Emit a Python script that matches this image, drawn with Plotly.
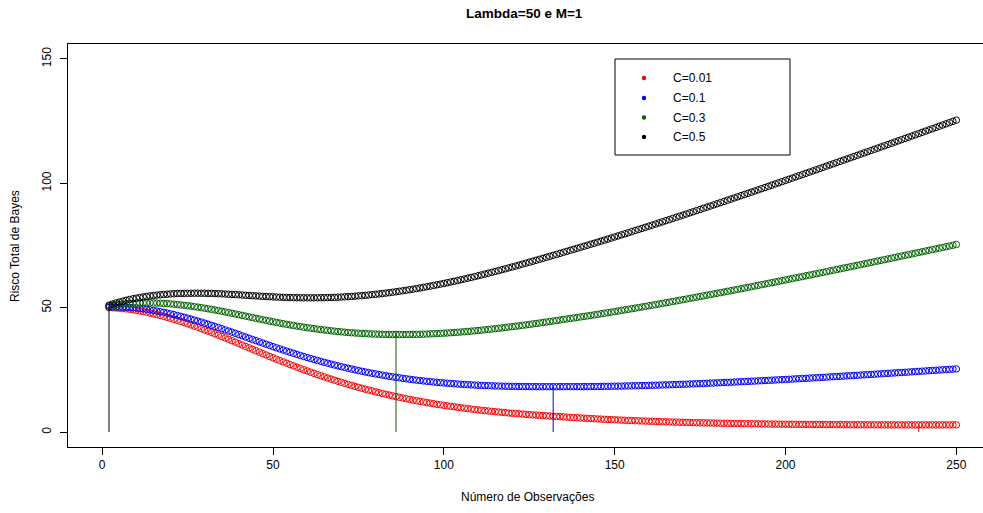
import plotly.graph_objects as go

# Number of observations (sample size n)
n_obs = list(range(2, 251))

# Total Bayes risk for each sampling cost C (n = 2 .. 250)
risk_c001 = [
    50.02, 49.97, 49.90, 49.80, 49.68, 49.53, 49.36, 49.17, 48.95, 48.71,
    48.45, 48.17, 47.87, 47.55, 47.22, 46.87, 46.50, 46.12, 45.73, 45.32,
    44.89, 44.45, 44.00, 43.54, 43.07, 42.59, 42.10, 41.60, 41.09, 40.57,
    40.04, 39.50, 38.96, 38.41, 37.85, 37.29, 36.73, 36.16, 35.58, 35.00,
    34.42, 33.84, 33.26, 32.68, 32.11, 31.54, 30.97, 30.40, 29.84, 29.29,
    28.74, 28.19, 27.65, 27.12, 26.60, 26.08, 25.57, 25.06, 24.56, 24.07,
    23.59, 23.11, 22.64, 22.18, 21.73, 21.28, 20.84, 20.41, 19.99, 19.57,
    19.16, 18.76, 18.37, 17.99, 17.61, 17.24, 16.88, 16.53, 16.18, 15.84,
    15.51, 15.19, 14.87, 14.56, 14.26, 13.97, 13.68, 13.40, 13.13, 12.86,
    12.60, 12.35, 12.10, 11.86, 11.63, 11.40, 11.18, 10.96, 10.75, 10.55,
    10.35, 10.15, 9.96, 9.78, 9.60, 9.42, 9.25, 9.09, 8.93, 8.77,
    8.62, 8.48, 8.34, 8.20, 8.07, 7.94, 7.81, 7.69, 7.57, 7.45,
    7.34, 7.23, 7.12, 7.02, 6.92, 6.82, 6.72, 6.63, 6.54, 6.45,
    6.36, 6.27, 6.19, 6.11, 6.02, 5.93, 5.84, 5.75, 5.67, 5.59,
    5.51, 5.43, 5.35, 5.28, 5.21, 5.14, 5.07, 5.00, 4.93, 4.87,
    4.81, 4.75, 4.69, 4.63, 4.57, 4.52, 4.46, 4.41, 4.36, 4.31,
    4.26, 4.22, 4.17, 4.13, 4.08, 4.04, 4.00, 3.96, 3.92, 3.88,
    3.85, 3.81, 3.78, 3.74, 3.71, 3.68, 3.65, 3.62, 3.59, 3.56,
    3.53, 3.51, 3.48, 3.46, 3.43, 3.41, 3.38, 3.36, 3.34, 3.32,
    3.30, 3.28, 3.26, 3.24, 3.22, 3.21, 3.19, 3.17, 3.16, 3.14,
    3.13, 3.12, 3.10, 3.09, 3.08, 3.07, 3.05, 3.04, 3.03, 3.02,
    3.01, 3.01, 3.00, 2.99, 2.98, 2.97, 2.97, 2.96, 2.95, 2.95,
    2.94, 2.94, 2.93, 2.93, 2.92, 2.92, 2.91, 2.91, 2.91, 2.90,
    2.90, 2.90, 2.90, 2.89, 2.89, 2.89, 2.89, 2.89, 2.89, 2.89,
    2.89, 2.89, 2.89, 2.89, 2.89, 2.89, 2.89, 2.89, 2.89,
]

risk_c01 = [
    50.20, 50.24, 50.26, 50.25, 50.22, 50.16, 50.08, 49.98, 49.85, 49.70,
    49.53, 49.34, 49.13, 48.90, 48.66, 48.40, 48.12, 47.83, 47.53, 47.21,
    46.87, 46.52, 46.16, 45.79, 45.41, 45.02, 44.62, 44.21, 43.79, 43.36,
    42.92, 42.47, 42.02, 41.56, 41.09, 40.62, 40.15, 39.67, 39.18, 38.69,
    38.20, 37.71, 37.22, 36.73, 36.25, 35.77, 35.29, 34.81, 34.34, 33.88,
    33.42, 32.96, 32.51, 32.07, 31.64, 31.21, 30.79, 30.37, 29.96, 29.56,
    29.17, 28.78, 28.40, 28.03, 27.67, 27.31, 26.96, 26.62, 26.29, 25.96,
    25.64, 25.33, 25.03, 24.74, 24.45, 24.17, 23.90, 23.64, 23.38, 23.13,
    22.89, 22.66, 22.43, 22.21, 22.00, 21.80, 21.60, 21.41, 21.23, 21.05,
    20.88, 20.72, 20.56, 20.41, 20.27, 20.13, 20.00, 19.87, 19.75, 19.64,
    19.53, 19.42, 19.32, 19.23, 19.14, 19.05, 18.97, 18.90, 18.83, 18.76,
    18.70, 18.65, 18.60, 18.55, 18.51, 18.47, 18.43, 18.40, 18.37, 18.34,
    18.32, 18.30, 18.28, 18.27, 18.26, 18.25, 18.24, 18.24, 18.24, 18.24,
    18.24, 18.24, 18.25, 18.26, 18.26, 18.26, 18.26, 18.26, 18.27, 18.28,
    18.29, 18.30, 18.31, 18.33, 18.35, 18.37, 18.39, 18.41, 18.43, 18.46,
    18.49, 18.52, 18.55, 18.58, 18.61, 18.65, 18.68, 18.72, 18.76, 18.80,
    18.84, 18.89, 18.93, 18.98, 19.02, 19.07, 19.12, 19.17, 19.22, 19.27,
    19.33, 19.38, 19.44, 19.49, 19.55, 19.61, 19.67, 19.73, 19.79, 19.85,
    19.91, 19.98, 20.04, 20.11, 20.17, 20.24, 20.30, 20.37, 20.44, 20.51,
    20.58, 20.65, 20.72, 20.79, 20.86, 20.94, 21.01, 21.08, 21.16, 21.23,
    21.31, 21.39, 21.46, 21.54, 21.62, 21.70, 21.77, 21.85, 21.93, 22.01,
    22.09, 22.18, 22.26, 22.34, 22.42, 22.50, 22.59, 22.67, 22.75, 22.84,
    22.92, 23.01, 23.09, 23.18, 23.26, 23.35, 23.43, 23.52, 23.61, 23.69,
    23.78, 23.87, 23.96, 24.04, 24.13, 24.22, 24.31, 24.40, 24.49, 24.58,
    24.67, 24.76, 24.85, 24.94, 25.03, 25.12, 25.21, 25.30, 25.39,
]

risk_c03 = [
    50.60, 50.84, 51.06, 51.25, 51.42, 51.56, 51.68, 51.78, 51.85, 51.90,
    51.93, 51.94, 51.93, 51.90, 51.86, 51.80, 51.72, 51.63, 51.53, 51.41,
    51.27, 51.12, 50.96, 50.79, 50.61, 50.42, 50.22, 50.01, 49.79, 49.56,
    49.32, 49.07, 48.82, 48.56, 48.29, 48.02, 47.75, 47.47, 47.18, 46.89,
    46.60, 46.31, 46.02, 45.73, 45.45, 45.17, 44.89, 44.61, 44.34, 44.08,
    43.82, 43.56, 43.31, 43.07, 42.84, 42.61, 42.39, 42.17, 41.96, 41.76,
    41.57, 41.38, 41.20, 41.03, 40.87, 40.71, 40.56, 40.42, 40.29, 40.16,
    40.04, 39.93, 39.83, 39.74, 39.65, 39.57, 39.50, 39.44, 39.38, 39.33,
    39.29, 39.26, 39.23, 39.21, 39.20, 39.20, 39.20, 39.21, 39.23, 39.25,
    39.28, 39.32, 39.36, 39.41, 39.47, 39.53, 39.60, 39.67, 39.75, 39.84,
    39.93, 40.02, 40.12, 40.23, 40.34, 40.45, 40.57, 40.70, 40.83, 40.96,
    41.10, 41.25, 41.40, 41.55, 41.71, 41.87, 42.03, 42.20, 42.37, 42.54,
    42.72, 42.90, 43.08, 43.27, 43.46, 43.65, 43.84, 44.04, 44.24, 44.44,
    44.64, 44.84, 45.05, 45.26, 45.46, 45.66, 45.86, 46.06, 46.27, 46.48,
    46.69, 46.90, 47.11, 47.33, 47.55, 47.77, 47.99, 48.21, 48.43, 48.66,
    48.89, 49.12, 49.35, 49.58, 49.81, 50.05, 50.28, 50.52, 50.76, 51.00,
    51.24, 51.49, 51.73, 51.98, 52.22, 52.47, 52.72, 52.97, 53.22, 53.47,
    53.73, 53.98, 54.24, 54.49, 54.75, 55.01, 55.27, 55.53, 55.79, 56.05,
    56.31, 56.58, 56.84, 57.11, 57.37, 57.64, 57.90, 58.17, 58.44, 58.71,
    58.98, 59.25, 59.52, 59.79, 60.06, 60.34, 60.61, 60.88, 61.16, 61.43,
    61.71, 61.99, 62.26, 62.54, 62.82, 63.10, 63.37, 63.65, 63.93, 64.21,
    64.49, 64.78, 65.06, 65.34, 65.62, 65.90, 66.19, 66.47, 66.75, 67.04,
    67.32, 67.61, 67.89, 68.18, 68.46, 68.75, 69.03, 69.32, 69.61, 69.89,
    70.18, 70.47, 70.76, 71.04, 71.33, 71.62, 71.91, 72.20, 72.49, 72.78,
    73.07, 73.36, 73.65, 73.94, 74.23, 74.52, 74.81, 75.10, 75.39,
]

risk_c05 = [
    51.00, 51.44, 51.86, 52.25, 52.62, 52.96, 53.28, 53.58, 53.85, 54.10,
    54.33, 54.54, 54.73, 54.90, 55.06, 55.20, 55.32, 55.43, 55.53, 55.61,
    55.67, 55.72, 55.76, 55.79, 55.81, 55.82, 55.82, 55.81, 55.79, 55.76,
    55.72, 55.67, 55.62, 55.56, 55.49, 55.42, 55.35, 55.27, 55.18, 55.09,
    55.00, 54.91, 54.82, 54.73, 54.65, 54.57, 54.49, 54.41, 54.34, 54.28,
    54.22, 54.16, 54.11, 54.07, 54.04, 54.01, 53.99, 53.97, 53.96, 53.96,
    53.97, 53.98, 54.00, 54.03, 54.07, 54.11, 54.16, 54.22, 54.29, 54.36,
    54.44, 54.53, 54.63, 54.74, 54.85, 54.97, 55.10, 55.24, 55.38, 55.53,
    55.69, 55.86, 56.03, 56.21, 56.40, 56.60, 56.80, 57.01, 57.23, 57.45,
    57.68, 57.92, 58.16, 58.41, 58.67, 58.93, 59.20, 59.47, 59.75, 60.04,
    60.33, 60.62, 60.92, 61.23, 61.54, 61.85, 62.17, 62.50, 62.83, 63.16,
    63.50, 63.85, 64.20, 64.55, 64.91, 65.27, 65.63, 66.00, 66.37, 66.74,
    67.12, 67.50, 67.88, 68.27, 68.66, 69.05, 69.44, 69.84, 70.24, 70.64,
    71.04, 71.44, 71.85, 72.26, 72.66, 73.06, 73.46, 73.86, 74.27, 74.68,
    75.09, 75.50, 75.91, 76.33, 76.75, 77.17, 77.59, 78.01, 78.43, 78.86,
    79.29, 79.72, 80.15, 80.58, 81.01, 81.45, 81.88, 82.32, 82.76, 83.20,
    83.64, 84.09, 84.53, 84.98, 85.42, 85.87, 86.32, 86.77, 87.22, 87.67,
    88.13, 88.58, 89.04, 89.49, 89.95, 90.41, 90.87, 91.33, 91.79, 92.25,
    92.71, 93.18, 93.64, 94.11, 94.57, 95.04, 95.50, 95.97, 96.44, 96.91,
    97.38, 97.85, 98.32, 98.79, 99.26, 99.74, 100.21, 100.68, 101.16, 101.63,
    102.11, 102.59, 103.06, 103.54, 104.02, 104.50, 104.97, 105.45, 105.93, 106.41,
    106.89, 107.38, 107.86, 108.34, 108.82, 109.30, 109.79, 110.27, 110.75, 111.24,
    111.72, 112.21, 112.69, 113.18, 113.66, 114.15, 114.63, 115.12, 115.61, 116.09,
    116.58, 117.07, 117.56, 118.04, 118.53, 119.02, 119.51, 120.00, 120.49, 120.98,
    121.47, 121.96, 122.45, 122.94, 123.43, 123.92, 124.41, 124.90, 125.39,
]

labels = ["C=0.01", "C=0.1", "C=0.3", "C=0.5"]
colors = ["#ff0000", "#0000ff", "#006400", "#000000"]
# sample size that minimises the total risk of each series
n_optimal = [239, 132, 86, 2]

x_ticks = [0, 50, 100, 150, 200, 250]
y_ticks = [0, 50, 100, 150]

series = [risk_c001, risk_c01, risk_c03, risk_c05]

W, H = 983, 513
ML, MR, MT, MB = 68, 0, 44, 66
PW, PH = W - ML - MR, H - MT - MB
FONT = "Liberation Sans, Arial, Helvetica, sans-serif"


def px(x):
    return (x - ML) / PW


def py(y):
    return (H - MB - y) / PH


fig = go.Figure()

for vals, col in zip(series, colors):
    fig.add_trace(go.Scatter(
        x=n_obs, y=vals, mode="markers",
        marker=dict(symbol="circle-open", size=6.5, color=col,
                    line=dict(width=1, color=col)),
        showlegend=False, hoverinfo="skip",
    ))

# vertical segment from zero up to the minimum risk of each curve
for vals, col, n_min in zip(series, colors, n_optimal):
    r_min = vals[n_obs.index(n_min)]
    fig.add_trace(go.Scatter(
        x=[n_min, n_min], y=[0, r_min], mode="lines",
        line=dict(color=col, width=1),
        showlegend=False, hoverinfo="skip",
    ))

shapes = []
annotations = []

# legend box
lx0, lx1, ly0, ly1 = 615, 790, 59, 155
shapes.append(dict(type="rect", xref="paper", yref="paper",
                   x0=px(lx0), x1=px(lx1), y0=py(ly1), y1=py(ly0),
                   line=dict(color="black", width=1), fillcolor="white",
                   layer="above"))
row_y = [78, 98, 117.5, 137]
for lab, col, ry in zip(labels, colors, row_y):
    shapes.append(dict(type="circle", xref="paper", yref="paper",
                       xsizemode="pixel", ysizemode="pixel",
                       xanchor=px(644), yanchor=py(ry),
                       x0=-2.2, x1=2.2, y0=-2.2, y1=2.2,
                       fillcolor=col, line=dict(color=col, width=0),
                       layer="above"))
    annotations.append(dict(text=lab, xref="paper", yref="paper",
                            x=px(671), y=py(ry), xanchor="left",
                            yanchor="middle", showarrow=False,
                            font=dict(family=FONT, size=12, color="black")))

# title and axis titles
annotations.append(dict(text="<b>Lambda=50 e M=1</b>", xref="paper",
                        yref="paper", x=px(524), y=py(14), xanchor="center",
                        yanchor="middle", showarrow=False,
                        font=dict(family=FONT, size=13.5, color="black")))
annotations.append(dict(text="Número de Observações", xref="paper",
                        yref="paper", x=px(527), y=py(497), xanchor="center",
                        yanchor="middle", showarrow=False,
                        font=dict(family=FONT, size=12, color="black")))
annotations.append(dict(text="Risco Total de Bayes", xref="paper",
                        yref="paper", x=px(15), y=py(246), xanchor="center",
                        yanchor="middle", textangle=-90, showarrow=False,
                        font=dict(family=FONT, size=12, color="black")))

fig.update_layout(
    width=W, height=H,
    margin=dict(l=ML, r=MR, t=MT, b=MB, pad=0),
    paper_bgcolor="white", plot_bgcolor="white",
    showlegend=False,
    font=dict(family=FONT, size=12, color="black"),
    shapes=shapes, annotations=annotations,
    xaxis=dict(range=[-10, 257.8], tickvals=x_ticks, ticks="outside",
               ticklen=7, tickwidth=1, tickcolor="black",
               showgrid=False, zeroline=False,
               showline=True, linecolor="black", linewidth=1, mirror=True,
               tickfont=dict(family=FONT, size=12, color="black")),
    yaxis=dict(range=[-6, 156], tickvals=y_ticks, ticks="outside",
               ticklen=7, tickwidth=1, tickcolor="black", tickangle=-90,
               ticklabelstandoff=4,
               showgrid=False, zeroline=False,
               showline=True, linecolor="black", linewidth=1, mirror=False,
               tickfont=dict(family=FONT, size=12, color="black")),
)

fig.write_html("out.html")
